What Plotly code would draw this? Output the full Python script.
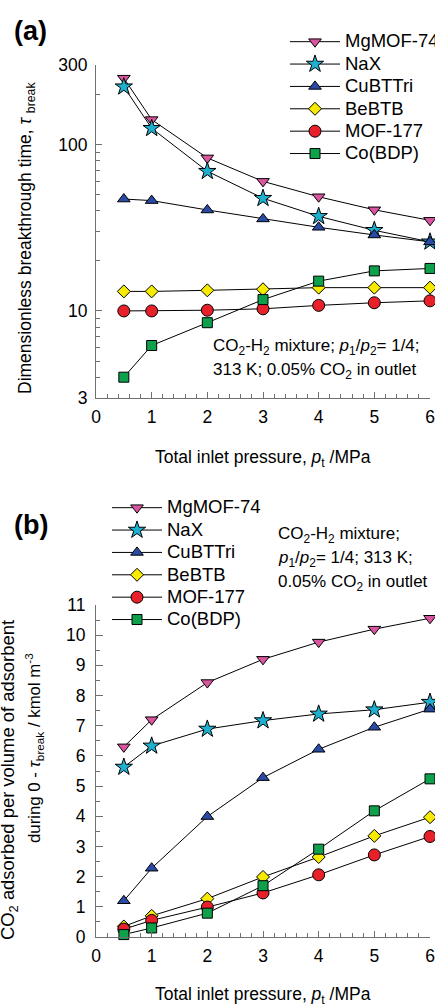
import plotly.graph_objects as go

pressure = [0.5, 1, 2, 3, 4, 5, 6]
materials = ["MgMOF-74", "NaX", "CuBTTri", "BeBTB", "MOF-177", "Co(BDP)"]
symbols = ["triangle-down", "star", "triangle-up", "diamond", "circle", "square"]
colors = ["#D9559F", "#1FB0D0", "#2A4BA5", "#F5EA00", "#E8202A", "#0FA04C"]
sizes = [11, 13, 11, 10, 12, 10]

tau_mgmof74 = [250, 141, 83, 60, 48.5, 40.5, 35]
tau_nax = [222, 125, 69, 47.5, 37, 30.5, 26]
tau_cubttri = [47, 46, 40.4, 35.7, 31.8, 28.6, 26]
tau_bebtb = [13.1, 13.1, 13.3, 13.5, 13.8, 13.8, 13.8]
tau_mof177 = [10.0, 10.0, 10.1, 10.3, 10.8, 11.2, 11.5]
tau_cobdp = [4.0, 6.2, 8.5, 11.7, 15.1, 17.4, 18.0]

ads_mgmof74 = [6.3, 7.2, 8.43, 9.2, 9.77, 10.2, 10.56]
ads_nax = [5.63, 6.33, 6.89, 7.17, 7.39, 7.53, 7.78]
ads_cubttri = [1.2, 2.28, 3.99, 5.28, 6.22, 6.95, 7.55]
ads_bebtb = [0.35, 0.7, 1.27, 1.99, 2.65, 3.35, 3.97]
ads_mof177 = [0.26, 0.55, 0.99, 1.46, 2.06, 2.72, 3.33]
ads_cobdp = [0.08, 0.3, 0.79, 1.7, 2.91, 4.18, 5.24]

tau_series = [tau_mgmof74, tau_nax, tau_cubttri, tau_bebtb, tau_mof177, tau_cobdp]
ads_series = [ads_mgmof74, ads_nax, ads_cubttri, ads_bebtb, ads_mof177, ads_cobdp]

x_ticks = [0, 1, 2, 3, 4, 5, 6]
tau_ticks = [3, 10, 100, 300]
tau_minor = [4, 5, 6, 7, 8, 9, 20, 30, 40, 50, 60, 70, 80, 90, 200]
ads_ticks = list(range(0, 12))

FONT = "Liberation Sans, Arial, sans-serif"
AX = "#707070"
LEG_TXT = 18.5

fig = go.Figure()
for name, sym, col, sz, ys in zip(materials, symbols, colors, sizes, tau_series):
    fig.add_trace(go.Scatter(
        x=pressure, y=ys, name=f'<span style="font-size:{LEG_TXT}px">{name}</span>',
        mode="lines+markers",
        line=dict(color="black", width=1),
        marker=dict(symbol=sym, color=col, size=sz, line=dict(color="black", width=1)),
        xaxis="x", yaxis="y", legend="legend", cliponaxis=False))
for name, sym, col, sz, ys in zip(materials, symbols, colors, sizes, ads_series):
    fig.add_trace(go.Scatter(
        x=pressure, y=ys, name=f'<span style="font-size:{LEG_TXT}px">{name}</span>',
        mode="lines+markers",
        line=dict(color="black", width=1),
        marker=dict(symbol=sym, color=col, size=sz, line=dict(color="black", width=1)),
        xaxis="x2", yaxis="y2", legend="legend2", cliponaxis=False))

# figure is a bit wider than the 435 px window; the overflow is hidden (as in the reference, text at the right edge is cut)
W, H = 450, 1004
ML, MR, MT, MB = 96, 20, 65, 67
PW, PH = W - ML - MR, H - MT - MB


def px(xp):
    return (xp - ML) / PW


def py(yp):
    return (H - MB - yp) / PH


axis_common = dict(showline=True, linecolor=AX, linewidth=1, ticks="inside",
                   tickcolor=AX, tickwidth=1, showgrid=False, zeroline=False,
                   tickfont=dict(family=FONT, size=17.5, color="black"))

fig.update_layout(
    width=W, height=H,
    margin=dict(l=ML, r=MR, t=MT, b=MB, autoexpand=False),
    paper_bgcolor="white", plot_bgcolor="white",
    font=dict(family=FONT, size=17, color="black"),
    xaxis=dict(domain=[0, 1], anchor="y", range=[0, 6], tickvals=x_ticks,
               ticklen=6, ticklabelstandoff=3,
               minor=dict(dtick=0.2, ticklen=4, ticks="inside", tickcolor=AX),
               **axis_common),
    yaxis=dict(domain=[py(398), 1], anchor="x", type="log",
               range=[0.47712, 2.47712], tickvals=tau_ticks,
               ticktext=[str(v) for v in tau_ticks], ticklen=6, ticklabelstandoff=4,
               minor=dict(tickvals=tau_minor, ticklen=4, ticks="inside", tickcolor=AX),
               **axis_common),
    xaxis2=dict(domain=[0, 1], anchor="y2", range=[0, 6], tickvals=x_ticks,
                ticklen=6, ticklabelstandoff=3,
                minor=dict(dtick=0.2, ticklen=4, ticks="inside", tickcolor=AX),
                **axis_common),
    yaxis2=dict(domain=[0, py(605)], anchor="x2", range=[0, 11], tickvals=ads_ticks,
                ticklen=7, ticklabelstandoff=6,
                minor=dict(dtick=0.5, ticklen=4, ticks="inside", tickcolor=AX),
                **axis_common),
    legend=dict(x=px(285), y=py(25.5), xanchor="left", yanchor="top",
                itemwidth=50, font=dict(family=FONT, size=14.9),
                bgcolor="rgba(0,0,0,0)", tracegroupgap=0),
    legend2=dict(x=px(107), y=py(491.5), xanchor="left", yanchor="top",
                 itemwidth=50, font=dict(family=FONT, size=14.9),
                 bgcolor="rgba(0,0,0,0)", tracegroupgap=0),
    showlegend=True,
)

ann = []


def add(text, x, y, size, xanchor="left", angle=0):
    ann.append(dict(text=text, x=px(x), y=py(y), xref="paper", yref="paper",
                    xanchor=xanchor, yanchor="middle", showarrow=False,
                    textangle=angle, font=dict(family=FONT, size=size)))


add("<b>(a)</b>", 12, 31, 27)
add("<b>(b)</b>", 12, 525, 27)
add("CO<sub>2</sub>-H<sub>2</sub> mixture; <i>p</i><sub>1</sub>/<i>p</i><sub>2</sub>= 1/4;", 211, 347, 17)
add("313 K; 0.05% CO<sub>2</sub> in outlet", 211, 371, 17)
add("CO<sub>2</sub>-H<sub>2</sub> mixture;", 276, 535, 17)
add("<i>p</i><sub>1</sub>/<i>p</i><sub>2</sub>= 1/4; 313 K;", 276, 559, 17)
add("0.05% CO<sub>2</sub> in outlet", 276, 583, 17)
add("Total inlet pressure, <i>p</i><sub>t</sub> /MPa", 263, 458, 17.5, xanchor="center")
add("Total inlet pressure, <i>p</i><sub>t</sub> /MPa", 263, 995, 17.5, xanchor="center")
add("Dimensionless breakthrough time, <i>τ</i> <sub>break</sub>", 26, 238, 17.5, xanchor="center", angle=-90)
add("CO<sub>2</sub> adsorbed per volume of adsorbent", 9, 780, 18.4, xanchor="center", angle=-90)
add("during 0 - <i>τ</i><sub>break</sub> / kmol m<sup>-3</sup>", 34, 748, 16.8, xanchor="center", angle=-90)
fig.update_layout(annotations=ann)

fig.write_html("out.html",
               config={"displayModeBar": False},
               post_script="document.body.style.margin='0';document.body.style.padding='0';"
                           "document.body.style.overflow='hidden';document.documentElement.style.overflow='hidden';")
